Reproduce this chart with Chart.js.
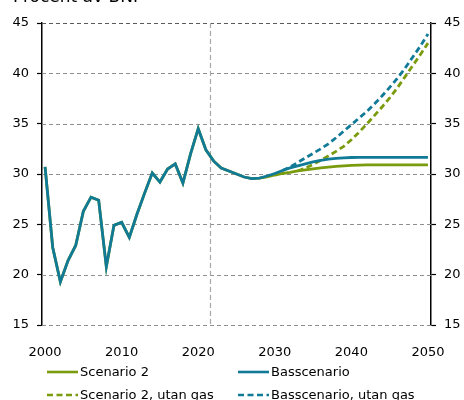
<!DOCTYPE html>
<html><head><meta charset="utf-8">
<script src="https://cdn.jsdelivr.net/npm/chart.js@4"></script>
<style>
html,body{margin:0;padding:0;background:#fff;}
#wrap{position:relative;width:464px;height:400px;overflow:hidden;font-family:"DejaVu Sans",Verdana,sans-serif;}
#title{position:absolute;left:13px;top:-14px;font-size:17px;line-height:20px;color:#000;white-space:nowrap;}
canvas{position:absolute;left:0;top:0;}
.leg{position:absolute;font-size:13px;color:#000;white-space:nowrap;height:16px;line-height:16px;}
.leg svg{position:absolute;left:0;top:2px;}
.leg span{position:absolute;left:33px;top:0;}
</style></head><body>
<div id="wrap">
<canvas id="c" width="464" height="400"></canvas>
<div id="title">Procent av BNP</div>
<div id="legend"></div>
</div>
<script>
const years = [];
for (let y = 2000; y <= 2050; y++) years.push(y);
const xTicks = [2000, 2010, 2020, 2030, 2040, 2050];
const yTicks = [15, 20, 25, 30, 35, 40, 45];
const historyYears = [2000,2001,2002,2003,2004,2005,2006,2007,2008,2009,2010,2011,2012,2013,2014,2015,2016,2017,2018,2019,2020,2021,2022,2023,2024,2025,2026,2027];
const historyValues = [30.7,22.7,19.3,21.4,22.9,26.3,27.7,27.4,20.8,24.9,25.2,23.7,26.0,28.1,30.1,29.2,30.5,31.0,29.1,32.0,34.5,32.4,31.3,30.6,30.3,30.0,29.7,29.55];
const projYears = [2028,2029,2030,2031,2032,2033,2034,2035,2036,2037,2038,2039,2040,2041,2042,2043,2044,2045,2046,2047,2048,2049,2050];
const basValues = [29.6,29.8,30.05,30.35,30.6,30.8,31.0,31.2,31.35,31.48,31.56,31.61,31.64,31.65,31.65,31.65,31.65,31.65,31.65,31.65,31.65,31.65,31.65];
const scen2Values = [29.58,29.72,29.9,30.05,30.15,30.3,30.4,30.5,30.6,30.68,30.75,30.8,30.85,30.88,30.9,30.9,30.9,30.9,30.9,30.9,30.9,30.9,30.9];
const basNoGasYears = [2031,2032,2033,2034,2035,2036,2037,2038,2039,2040,2041,2042,2043,2044,2045,2046,2047,2048,2049,2050];
const basNoGasValues = [30.35,30.7,31.15,31.6,32.05,32.5,33.0,33.6,34.25,34.9,35.55,36.2,36.95,37.75,38.6,39.5,40.5,41.6,42.7,43.9];
const scen2NoGasYears = [2033,2034,2035,2036,2037,2038,2039,2040,2041,2042,2043,2044,2045,2046,2047,2048,2049,2050];
const scen2NoGasValues = [30.3,30.6,30.95,31.35,31.8,32.25,32.75,33.4,34.15,34.95,35.8,36.65,37.55,38.55,39.65,40.75,41.85,43.0];
const seriesNames = ["Scenario 2", "Basscenario", "Scenario 2, utan gas", "Basscenario, utan gas"];
const forecastStart = 2021.5;

const BLUE = "#117a97";
const GREEN = "#7a9b0d";
const FONT = '"DejaVu Sans", Verdana, sans-serif';

function pts(xs, vs) { return xs.map((x, i) => ({x: x, y: vs[i]})); }
const histPts = pts(historyYears, historyValues);

const datasets = [
  {label: seriesNames[1], data: histPts.concat(pts(projYears, basValues)), borderColor: BLUE, borderWidth: 2.8},
  {label: seriesNames[0], data: histPts.concat(pts(projYears, scen2Values)), borderColor: GREEN, borderWidth: 2.8},
  {label: seriesNames[3], data: pts(basNoGasYears, basNoGasValues), borderColor: BLUE, borderWidth: 2.8, borderDash: [6, 3.5]},
  {label: seriesNames[2], data: pts(scen2NoGasYears, scen2NoGasValues), borderColor: GREEN, borderWidth: 2.8, borderDash: [6, 3.5]}
].map(d => Object.assign({pointRadius: 0, pointHoverRadius: 0, tension: 0, fill: false}, d));

// dashed grid lines and forecast marker, positioned through the library's scales
const gridAndMarker = {
  id: 'gridAndMarker',
  beforeDatasetsDraw(chart) {
    const {ctx, chartArea, scales} = chart;
    ctx.save();
    ctx.lineWidth = 1.2;
    ctx.setLineDash([4, 3]);
    scales.y.ticks.forEach(t => {
      const y = Math.round(scales.y.getPixelForValue(t.value)) + 0.5;
      ctx.strokeStyle = t.value === 45 ? '#5a5a5a' : '#8f8f8f';
      ctx.beginPath();
      ctx.moveTo(chartArea.left, y);
      ctx.lineTo(chartArea.right, y);
      ctx.stroke();
    });
    const x = Math.round(scales.x.getPixelForValue(forecastStart)) + 0.5;
    ctx.strokeStyle = '#a8a8a8';
    ctx.setLineDash([5, 3]);
    ctx.beginPath();
    ctx.moveTo(x, chartArea.top);
    ctx.lineTo(x, chartArea.bottom);
    ctx.stroke();
    ctx.restore();
  }
};

const yCommon = {
  type: 'linear', min: 15, max: 45,
  afterBuildTicks(s) { s.ticks = yTicks.map(v => ({value: v})); },
  ticks: {font: {family: FONT, size: 13}, color: '#000', padding: 8},
};

new Chart(document.getElementById('c'), {
  type: 'line',
  data: {datasets},
  plugins: [gridAndMarker],
  options: {
    responsive: false, animation: false, devicePixelRatio: 1,
    layout: {padding: {top: 23, left: 0, right: 0, bottom: 0}},
    plugins: {legend: {display: false}, tooltip: {enabled: false}, title: {display: false}},
    scales: {
      x: {
        type: 'linear', min: 1999.6, max: 2050.4,
        afterBuildTicks(s) { s.ticks = xTicks.map(v => ({value: v})); },
        afterFit(s) { s.height = 75; },
        grid: {display: false},
        border: {display: false},
        ticks: {font: {family: FONT, size: 13}, color: '#000', padding: 12, callback: v => String(v), maxRotation: 0}
      },
      y: Object.assign({}, yCommon, {
        position: 'left',
        afterFit(s) { s.width = 42; },
        grid: {drawOnChartArea: false, tickColor: '#000', tickLength: 5, tickWidth: 1.2, drawTicks: true},
        border: {display: true, color: '#000', width: 1.5},
      }),
      y2: Object.assign({}, yCommon, {
        position: 'right',
        afterFit(s) { s.width = 33; },
        grid: {drawOnChartArea: false, tickColor: '#000', tickLength: 5, tickWidth: 1.2},
        border: {display: true, color: '#000', width: 1.5},
      })
    }
  }
});

// HTML legend
const legendItems = [
  {name: seriesNames[0], color: GREEN, dash: false, left: 47, top: 364},
  {name: seriesNames[1], color: BLUE, dash: false, left: 238, top: 364},
  {name: seriesNames[2], color: GREEN, dash: true, left: 47, top: 387},
  {name: seriesNames[3], color: BLUE, dash: true, left: 238, top: 387}
];
const lg = document.getElementById('legend');
legendItems.forEach(it => {
  const d = document.createElement('div');
  d.className = 'leg';
  d.style.left = it.left + 'px';
  d.style.top = it.top + 'px';
  d.innerHTML = '<svg width="32" height="12"><line x1="0" y1="6" x2="31" y2="6" stroke="' + it.color + '" stroke-width="2.6"' + (it.dash ? ' stroke-dasharray="6 3.5"' : '') + '/></svg><span>' + it.name + '</span>';
  lg.appendChild(d);
});
</script>
</body></html>
